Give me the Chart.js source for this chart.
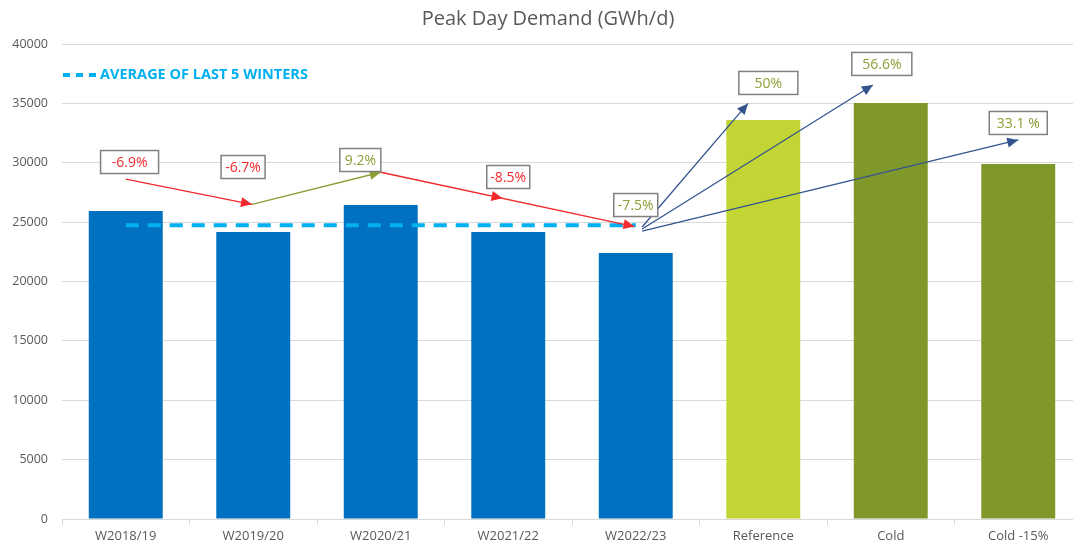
<!DOCTYPE html>
<html>
<head>
<meta charset="utf-8">
<title>Peak Day Demand</title>
<script src="https://cdn.jsdelivr.net/npm/chart.js@4"></script>
<style>
  html, body { margin: 0; padding: 0; background: #fff; overflow: hidden; }
  #wrap { width: 1073px; height: 545px; overflow: hidden; }
</style>
</head>
<body>
<div id="wrap"><canvas id="chart" width="1090" height="545"></canvas></div>
<script>
// data
const categories = ["W2018/19", "W2019/20", "W2020/21", "W2021/22", "W2022/23", "Reference", "Cold", "Cold -15%"];
const demand = [25940, 24170, 26440, 24170, 22400, 33600, 35030, 29900];
const avgLast5 = [24730, 24730, 24730, 24730, 24730, null, null, null];
const yTicks = [0, 5000, 10000, 15000, 20000, 25000, 30000, 35000, 40000];

// annotation labels: text, category index, value
const noteText = ["-6.9%", "-6.7%", "9.2%", "-8.5%", "-7.5%", "50%", "56.6%", "33.1 %"];
const noteX = [0.03, 0.92, 1.84, 3.0, 4.0, 5.04, 5.93, 7.0];
const noteY = [30060, 29640, 30230, 28800, 26440, 36720, 38320, 33350];

// arrows: from (index, value) to (index, value)
const arrowFromX = [0.0, 0.99, 2.0, 4.05, 4.05, 4.05];
const arrowFromY = [28630, 26500, 29200, 24590, 24420, 24250];
const arrowToX = [0.99, 2.0, 3.99, 4.88, 5.86, 7.0];
const arrowToY = [26500, 29200, 24630, 35000, 36550, 31920];

// styles
const barColors = ["#0070C0", "#0070C0", "#0070C0", "#0070C0", "#0070C0", "#C2D535", "#80982A", "#80982A"];
const RED = "#F22A2E", OLIVE = "#8C9E34", NAVY = "#34548F";
const noteColors = [RED, RED, OLIVE, RED, OLIVE, OLIVE, OLIVE, OLIVE];
const noteW = [58, 44, 41, 43, 44, 59, 60, 58];
const arrowColors = [RED, OLIVE, RED, NAVY, NAVY, NAVY];
const FONT = "'Open Sans', 'Noto Sans', sans-serif";
const GREY = "#595959";

function head(ctx, x1, y1, x2, y2, len, wid) {
  let a = Math.atan2(y2 - y1, x2 - x1);
  ctx.beginPath();
  ctx.moveTo(x2, y2);
  ctx.lineTo(x2 - len * Math.cos(a) + wid * Math.sin(a), y2 - len * Math.sin(a) - wid * Math.cos(a));
  ctx.lineTo(x2 - len * Math.cos(a) - wid * Math.sin(a), y2 - len * Math.sin(a) + wid * Math.cos(a));
  ctx.closePath();
  ctx.fill();
}

const extras = {
  id: "extras",
  afterDatasetsDraw(chart) {
    const ctx = chart.ctx;
    const xs = chart.scales.x, ys = chart.scales.y;
    const area = chart.chartArea;
    ctx.save();

    // title
    ctx.fillStyle = GREY;
    ctx.font = "20px " + FONT;
    ctx.textAlign = "center";
    ctx.textBaseline = "middle";
    ctx.fillText("Peak Day Demand (GWh/d)", 548, 19);

    // legend box
    ctx.strokeStyle = "#00B0F0";
    ctx.lineWidth = 4;
    ctx.setLineDash([7, 6]);
    ctx.beginPath();
    ctx.moveTo(area.left + 1, 75);
    ctx.lineTo(area.left + 34, 75);
    ctx.stroke();
    ctx.setLineDash([]);
    ctx.fillStyle = "#00B0F0";
    ctx.font = "bold 14.5px " + FONT;
    ctx.textAlign = "left";
    ctx.fillText("AVERAGE OF LAST 5 WINTERS", area.left + 38, 75);

    // arrows
    for (let i = 0; i < arrowFromX.length; i++) {
      let x1 = xs.getPixelForValue(arrowFromX[i]), y1 = ys.getPixelForValue(arrowFromY[i]);
      let x2 = xs.getPixelForValue(arrowToX[i]), y2 = ys.getPixelForValue(arrowToY[i]);
      ctx.strokeStyle = arrowColors[i];
      ctx.fillStyle = arrowColors[i];
      ctx.lineWidth = 1.3;
      ctx.beginPath();
      ctx.moveTo(x1, y1);
      ctx.lineTo(x2, y2);
      ctx.stroke();
      head(ctx, x1, y1, x2, y2, 11, 5);
      if (i === 2) {
        let t = 0.48;
        head(ctx, x1, y1, x1 + (x2 - x1) * t, y1 + (y2 - y1) * t, 11, 5);
      }
    }

    // note boxes
    ctx.font = "14px " + FONT;
    ctx.textAlign = "center";
    ctx.textBaseline = "middle";
    for (let i = 0; i < noteText.length; i++) {
      let cx = xs.getPixelForValue(noteX[i]), cy = ys.getPixelForValue(noteY[i]);
      let w = noteW[i], h = 23;
      ctx.fillStyle = "#fff";
      ctx.fillRect(cx - w / 2, cy - h / 2, w, h);
      ctx.strokeStyle = "#808080";
      ctx.lineWidth = 1.5;
      ctx.strokeRect(cx - w / 2, cy - h / 2, w, h);
      ctx.fillStyle = noteColors[i];
      ctx.fillText(noteText[i], cx, cy + 1);
    }
    ctx.restore();
  }
};

new Chart(document.getElementById("chart"), {
  type: "bar",
  data: {
    labels: categories,
    datasets: [
      {
        type: "line",
        label: "Average of last 5 winters",
        data: avgLast5,
        borderColor: "#00B0F0",
        borderWidth: 4,
        borderDash: [13, 9],
        pointRadius: 0,
        fill: false,
        order: 0
      },
      {
        label: "Peak Day Demand",
        data: demand,
        backgroundColor: barColors,
        borderWidth: 0,
        categoryPercentage: 1,
        barPercentage: 0.58,
        order: 1
      }
    ]
  },
  options: {
    responsive: false,
    animation: false,
    devicePixelRatio: 1,
    layout: { padding: { top: 44, right: 8, left: 0, bottom: 0 } },
    plugins: {
      legend: { display: false },
      title: { display: false },
      tooltip: { enabled: false }
    },
    scales: {
      y: {
        min: 0,
        max: 40000,
        afterFit: s => { s.width = 62; },
        afterBuildTicks: s => { s.ticks = yTicks.map(v => ({ value: v })); },
        ticks: { color: GREY, font: { family: FONT, size: 12.5 }, padding: 14, callback: v => String(v) },
        grid: { color: "#D9D9D9", lineWidth: 1, drawTicks: false },
        border: { display: false }
      },
      x: {
        afterFit: s => { s.height = 26; },
        ticks: { color: GREY, font: { family: FONT, size: 13 }, padding: 3, maxRotation: 0, autoSkip: false },
        grid: { display: true, drawOnChartArea: false, offset: true, tickLength: 6, color: "#D9D9D9" },
        border: { display: true, color: "#D9D9D9", width: 1 }
      }
    }
  },
  plugins: [extras]
});
</script>
</body>
</html>
